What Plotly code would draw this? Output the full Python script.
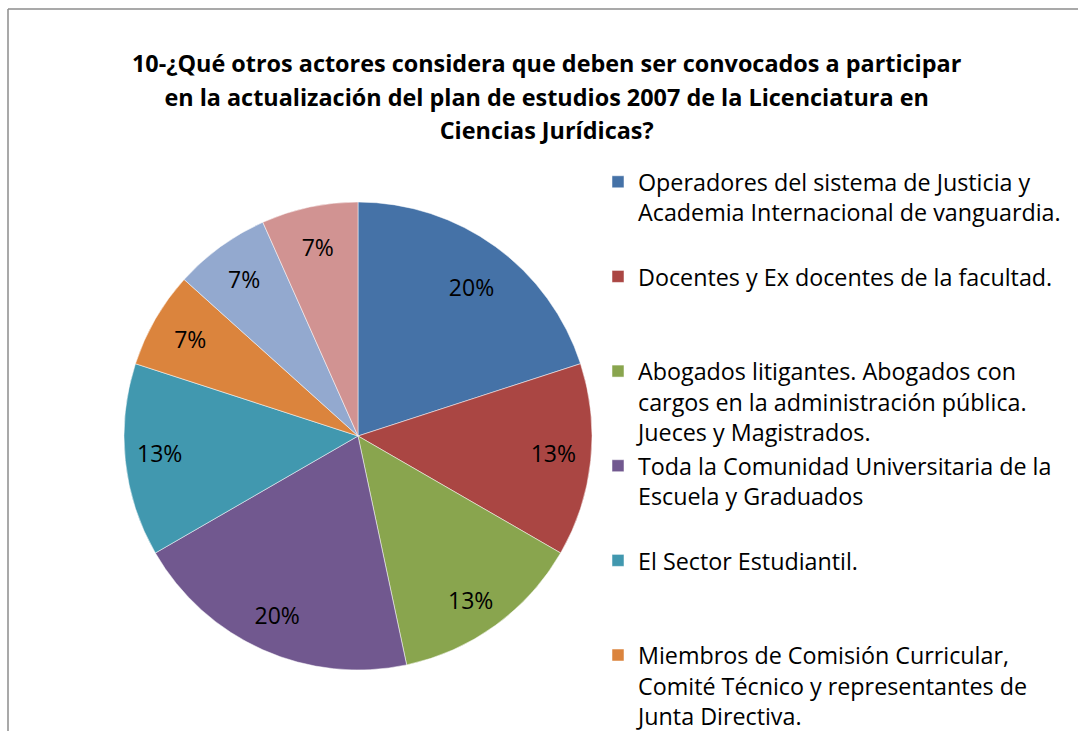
import plotly.graph_objects as go

# ---- data ----
categories = [
    "Operadores del sistema de Justicia y<br>Academia Internacional de vanguardia.",
    "Docentes y Ex docentes de la facultad.",
    "Abogados litigantes. Abogados con<br>cargos en la administración pública.<br>Jueces y Magistrados.",
    "Toda la Comunidad Universitaria de la<br>Escuela y Graduados",
    "El Sector Estudiantil.",
    "Miembros de Comisión Curricular,<br>Comité Técnico y representantes de<br>Junta Directiva.",
    "\u00a0",          # legend entry not visible in the reference (cut off)
    "\u00a0\u00a0",    # legend entry not visible in the reference (cut off)
]
values = [3, 2, 2, 3, 2, 1, 1, 1]
colors = ["#4572A7", "#AA4643", "#89A54E", "#71588F", "#4198AF", "#DB843D", "#93A9CF", "#D19392"]
title_lines = [
    "10-¿Qué otros actores considera que deben ser convocados a participar",
    "en la actualización del plan de estudios 2007 de la Licenciatura en",
    "Ciencias Jurídicas?",
]

W, H = 1078, 1000
FONT = "Open Sans"
LEG_INNER = 23.3
TITLE_INNER = 23.4
NB = "\u00a0"

# label padding (blank lines above/below, nbsp left/right) so that the
# percentages sit further out in the slices, like the reference
pad_spec = [(0, 2, 9, 0), (0, 0, 10, 0), (2, 0, 5, 0), (3, 0, 0, 7),
            (0, 0, 0, 11), (0, 0, 0, 0), (0, 0, 0, 0), (0, 0, 0, 0)]


def fx(x):
    return x / W


def fy(y):
    return 1 - y / H


def pad3(label):
    n = label.count("<br>") + 1
    sp = '<span style="font-size:%spx">' % LEG_INNER
    txt = sp + label.replace("<br>", "</span><br>" + sp) + "</span>"
    return txt + "<br>" + NB * (3 - n) if n < 3 else txt


def pad3(label):
    n = label.count("<br>") + 1
    sp = '<span style="font-size:%spx">' % LEG_INNER
    txt = sp + label.replace("<br>", "</span><br>" + sp) + "</span>"
    return txt + ("<br>" + NB) * (3 - n)


def label_template(above, below, left, right):
    return (NB + "<br>") * above + NB * left + "%{percent:.0%}" + NB * right + ("<br>" + NB) * below


legend_labels = [pad3(c) for c in categories]
templates = [label_template(*p) for p in pad_spec]

fig = go.Figure(
    go.Pie(
        labels=legend_labels,
        values=values,
        sort=False,
        direction="clockwise",
        rotation=0,
        marker=dict(colors=colors, line=dict(color="white", width=0.5)),
        texttemplate=templates,
        textposition="inside",
        insidetextorientation="horizontal",
        textfont=dict(family=FONT, size=23, color="black"),
        hoverinfo="skip",
        domain=dict(x=[fx(123), fx(593)], y=[fy(670), fy(202)]),
    )
)

tsp = '<span style="font-size:%spx"><b>' % TITLE_INNER
fig.add_annotation(
    text=tsp + ("</b></span><br>" + tsp).join(title_lines) + "</b></span>",
    x=fx(547), y=fy(97), xref="paper", yref="paper",
    xanchor="center", yanchor="middle", showarrow=False,
    font=dict(family=FONT, size=25.8, color="black"),
    align="center",
)

fig.add_shape(type="line", xref="paper", yref="paper", x0=fx(8), x1=1, y0=fy(9), y1=fy(9),
              line=dict(color="#8c8c8c", width=1.5))
fig.add_shape(type="line", xref="paper", yref="paper", x0=fx(8), x1=fx(8), y0=fy(9), y1=0,
              line=dict(color="#8c8c8c", width=1.5))

fig.update_layout(
    width=W, height=H,
    margin=dict(l=0, r=0, t=0, b=0, autoexpand=False),
    paper_bgcolor="white", plot_bgcolor="white",
    font=dict(family=FONT, color="black"),
    showlegend=True,
    legend=dict(
        x=fx(598), y=fy(160), xanchor="left", yanchor="top",
        font=dict(family=FONT, size=23.5, color="black"),
        valign="top", itemwidth=30, bgcolor="rgba(0,0,0,0)",
        traceorder="normal",
    ),
)

fig.write_html(
    "out.html",
    config={"displayModeBar": False},
    post_script="document.body.style.margin='0';document.body.style.overflow='hidden';document.documentElement.style.overflow='hidden';",
)
